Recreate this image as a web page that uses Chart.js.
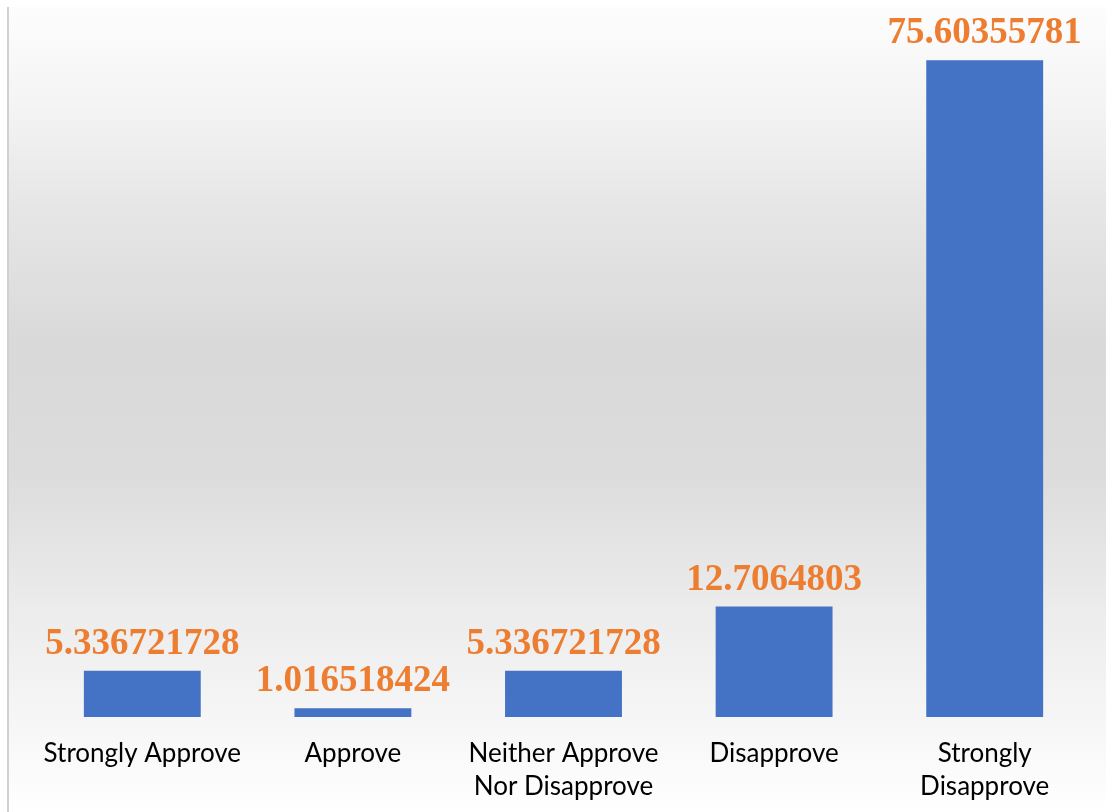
<!DOCTYPE html>
<html>
<head>
<meta charset="utf-8">
<script src="https://cdn.jsdelivr.net/npm/chart.js@4"></script>
<style>
  html, body { margin: 0; padding: 0; background: #ffffff; }
  #c { display: block; }
</style>
</head>
<body>
<canvas id="c" width="1106" height="812"></canvas>
<script>
const categories = [
  "Strongly Approve",
  "Approve",
  ["Neither Approve", "Nor Disapprove"],
  "Disapprove",
  ["Strongly", "Disapprove"]
];
const values = [5.336721728, 1.016518424, 5.336721728, 12.7064803, 75.60355781];
const valueLabels = ["5.336721728", "1.016518424", "5.336721728", "12.7064803", "75.60355781"];

const backgroundPlugin = {
  id: 'bgGradient',
  beforeDraw(chart) {
    const ctx = chart.ctx;
    const W = chart.width, H = chart.height;
    ctx.save();
    ctx.fillStyle = '#ffffff';
    ctx.fillRect(0, 0, W, H);
    const top = 7;
    const g = ctx.createLinearGradient(0, top, 0, H);
    g.addColorStop(0, '#fdfdfd');
    g.addColorStop(0.12, '#f4f4f4');
    g.addColorStop(0.25, '#e6e6e6');
    g.addColorStop(0.42, '#d9d9d9');
    g.addColorStop(0.58, '#dcdcdc');
    g.addColorStop(0.75, '#ececec');
    g.addColorStop(0.9, '#f7f7f7');
    g.addColorStop(1, '#ffffff');
    ctx.fillStyle = g;
    ctx.fillRect(8, top, W - 8, H - top);
    ctx.fillStyle = '#d0d0d0';
    ctx.fillRect(7, top, 2, H - top);
    ctx.restore();
  }
};

const valueLabelPlugin = {
  id: 'valueLabels',
  afterDatasetsDraw(chart) {
    const ctx = chart.ctx;
    const meta = chart.getDatasetMeta(0);
    ctx.save();
    ctx.font = 'bold 37px "Liberation Serif", "Times New Roman", serif';
    ctx.fillStyle = '#ED7D31';
    ctx.textAlign = 'center';
    ctx.textBaseline = 'alphabetic';
    meta.data.forEach((bar, i) => {
      ctx.fillText(valueLabels[i], bar.x, bar.y - 17);
    });
    ctx.restore();
  }
};

new Chart(document.getElementById('c'), {
  type: 'bar',
  data: {
    labels: categories,
    datasets: [{
      data: values,
      backgroundColor: '#4472C4',
      borderWidth: 0,
      barPercentage: 0.555,
      categoryPercentage: 1.0
    }]
  },
  options: {
    responsive: false,
    animation: false,
    devicePixelRatio: 1,
    layout: { padding: { left: 37, right: 16, top: 22, bottom: 0 } },
    plugins: {
      legend: { display: false },
      tooltip: { enabled: false },
      title: { display: false }
    },
    scales: {
      x: {
        grid: { display: false, drawTicks: false, tickLength: 0 },
        border: { display: false },
        ticks: {
          color: '#000000',
          font: { family: 'Lato, "Open Sans", sans-serif', size: 26, lineHeight: 1.27 },
          padding: 20,
          maxRotation: 0,
          autoSkip: false
        },
        afterFit(scale) { scale.height = 95; }
      },
      y: {
        display: false,
        min: 0,
        max: 80
      }
    }
  },
  plugins: [backgroundPlugin, valueLabelPlugin]
});
</script>
</body>
</html>
